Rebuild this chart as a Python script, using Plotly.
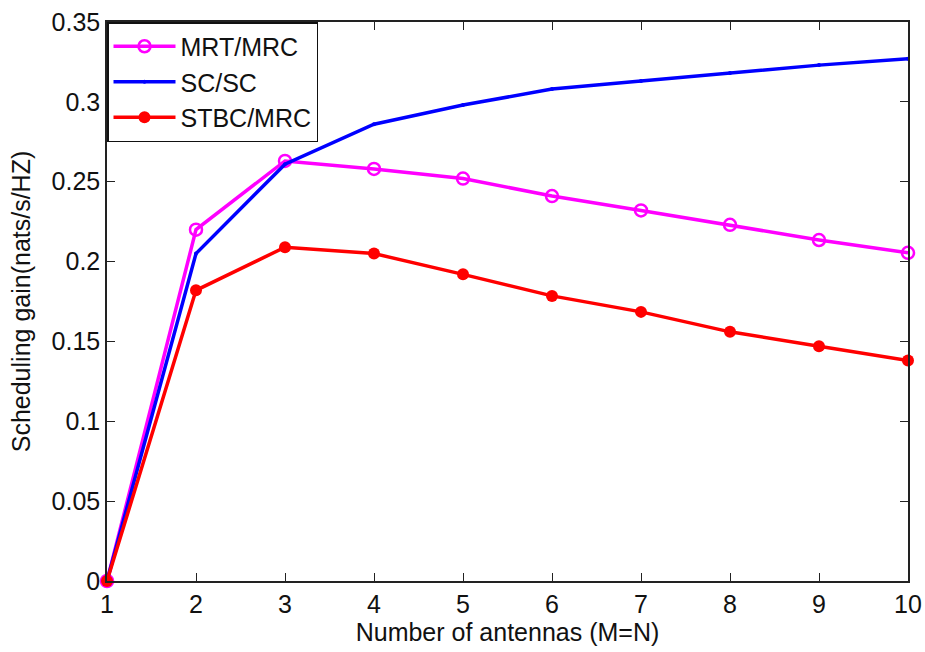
import plotly.graph_objects as go

antennas = [1, 2, 3, 4, 5, 6, 7, 8, 9, 10]
mrt_mrc = [0.0, 0.220, 0.263, 0.258, 0.252, 0.241, 0.232, 0.223, 0.2135, 0.2055]
sc_sc = [0.0, 0.205, 0.261, 0.286, 0.298, 0.308, 0.313, 0.318, 0.323, 0.327]
stbc_mrc = [0.0, 0.182, 0.209, 0.205, 0.192, 0.1785, 0.1685, 0.156, 0.147, 0.138]

x_ticks = [1, 2, 3, 4, 5, 6, 7, 8, 9, 10]
y_ticks = [0, 0.05, 0.1, 0.15, 0.2, 0.25, 0.3, 0.35]
y_tick_text = ["0", "0.05", "0.1", "0.15", "0.2", "0.25", "0.3", "0.35"]

font = "Liberation Sans, Arial, sans-serif"
fs = 25

fig = go.Figure()
fig.add_trace(go.Scatter(
    x=antennas, y=mrt_mrc, name="MRT/MRC", mode="lines+markers",
    line=dict(color="#FF00FF", width=3.5),
    marker=dict(symbol="circle-open", size=12, color="#FF00FF", line=dict(width=2.5, color="#FF00FF")),
    cliponaxis=False,
))
fig.add_trace(go.Scatter(
    x=antennas, y=sc_sc, name="SC/SC", mode="lines+markers",
    line=dict(color="#0000FF", width=3.5),
    marker=dict(symbol="circle", size=4, color="#0000FF"),
    cliponaxis=False,
))
fig.add_trace(go.Scatter(
    x=antennas, y=stbc_mrc, name="STBC/MRC", mode="lines+markers",
    line=dict(color="#FF0000", width=3.5),
    marker=dict(symbol="circle", size=12, color="#FF0000"),
    cliponaxis=False,
))

axis_common = dict(
    showgrid=False, zeroline=False, showline=True, linecolor="#222222", linewidth=1.5,
    mirror="ticks", ticks="inside", ticklen=8, tickwidth=1.2, tickcolor="#222222",
    tickfont=dict(family=font, size=fs, color="#111111"),
    automargin=False,
)

fig.update_layout(
    width=925, height=652,
    margin=dict(l=107, r=17, t=22, b=71),
    paper_bgcolor="white", plot_bgcolor="white",
    font=dict(family=font, size=fs, color="#111111"),
    showlegend=True,
    legend=dict(
        x=0, y=1, xanchor="left", yanchor="top",
        bgcolor="white", bordercolor="#111111", borderwidth=1.5,
        font=dict(family=font, size=fs, color="#111111"),
        itemwidth=62, tracegroupgap=0, entrywidth=165, entrywidthmode="pixels",
    ),
)
fig.update_xaxes(
    range=[1, 10], tickvals=x_ticks, ticktext=[str(v) for v in x_ticks],
    title=dict(text="Number of antennas (M=N)", font=dict(family=font, size=fs), standoff=4),
    **axis_common,
)
fig.update_yaxes(
    range=[0, 0.35], tickvals=y_ticks, ticktext=y_tick_text,
    title=dict(text="Scheduling gain(nats/s/HZ)", font=dict(family=font, size=fs), standoff=14),
    **axis_common,
)

fig.write_html("out.html")
